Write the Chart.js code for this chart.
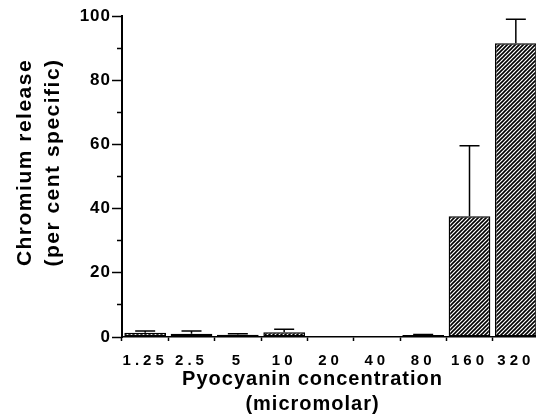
<!DOCTYPE html>
<html>
<head>
<meta charset="utf-8">
<script src="https://cdn.jsdelivr.net/npm/chart.js@4/dist/chart.umd.min.js"></script>
<style>
  html, body { margin: 0; padding: 0; background: #fff; overflow: hidden; width: 536px; height: 417px; }
  #wrap { width: 540px; height: 417px; }
</style>
</head>
<body>
<div id="wrap"><canvas id="c" width="540" height="417"></canvas></div>
<script>
// ---- data ----
const categories = ['1.25', '2.5', '5', '10', '20', '40', '80', '160', '320'];
const releaseValues = [1.3, 1.0, 0.7, 1.5, 0, 0, 0.6, 37.6, 91.5];
const releaseErrors = [0.6, 0.9, 0.3, 0.9, 0, 0, 0.2, 22.0, 7.5];
const yTickMin = 0;
const yTickMax = 100;
const yMajorStep = 20;
const yMinorStep = 10;
const xTitleLines = ['Pyocyanin concentration', '(micromolar)'];
const yTitleLines = ['Chromium release', '(per cent specific)'];

const FONT = '"Liberation Sans", Arial, Helvetica, sans-serif';

// hatch pattern
function makeHatch() {
  const t = document.createElement('canvas');
  t.width = 4; t.height = 4;
  const g = t.getContext('2d');
  g.fillStyle = '#fff';
  g.fillRect(0, 0, 4, 4);
  g.strokeStyle = '#000';
  g.lineWidth = 1.6;
  g.beginPath();
  g.moveTo(-1, 5); g.lineTo(5, -1);
  g.moveTo(-3, 3); g.lineTo(3, -3);
  g.moveTo(1, 7); g.lineTo(7, 1);
  g.stroke();
  return g.createPattern(t, 'repeat');
}
const hatch = makeHatch();

// error bar plugin (upper only)
const errorBars = {
  id: 'errorBars',
  afterDatasetsDraw(chart) {
    const ctx = chart.ctx;
    const meta = chart.getDatasetMeta(0);
    const ys = chart.scales.y;
    ctx.save();
    ctx.strokeStyle = '#000';
    ctx.lineWidth = 1.5;
    meta.data.forEach((bar, i) => {
      const e = releaseErrors[i];
      if (!e) return;
      const v = releaseValues[i];
      const yTop = ys.getPixelForValue(v + e);
      const yBase = ys.getPixelForValue(v);
      ctx.beginPath();
      ctx.moveTo(bar.x, yBase);
      ctx.lineTo(bar.x, yTop);
      ctx.moveTo(bar.x - 10, yTop);
      ctx.lineTo(bar.x + 10, yTop);
      ctx.stroke();
    });
    ctx.restore();
  }
};

// letter spacing / title placement plugin
function patchScale(scale, labelSp, titleSp, dx, dy) {
  if (!scale || scale._patched) return;
  scale._patched = true;
  const dl = scale.drawLabels;
  const dt = scale.drawTitle;
  scale.drawLabels = function (a) {
    const c = this.ctx; c.save(); c.letterSpacing = labelSp; dl.call(this, a); c.restore();
  };
  scale.drawTitle = function () {
    const c = this.ctx; c.save(); c.letterSpacing = titleSp; c.translate(dx, dy); dt.call(this); c.restore();
  };
}
const spacing = {
  id: 'spacing',
  beforeDraw(chart) {
    patchScale(chart.scales.x, '4px', '1px', -18, 0);
    patchScale(chart.scales.y, '1px', '1.5px', 0, -14);
  }
};

new Chart(document.getElementById('c'), {
  type: 'bar',
  data: {
    labels: categories,
    datasets: [{
      data: releaseValues,
      backgroundColor: hatch,
      borderColor: '#000',
      borderWidth: 1.5,
      borderSkipped: false,
      categoryPercentage: 1.0,
      barPercentage: 0.9
    }]
  },
  options: {
    responsive: false,
    animation: false,
    devicePixelRatio: 1,
    layout: { padding: { top: 16, right: 1, left: 0, bottom: 0 } },
    plugins: { legend: { display: false }, tooltip: { enabled: false } },
    scales: {
      x: {
        type: 'category',
        afterFit(s) { s.height = 80; },
        border: { display: true, color: '#000', width: 1.5 },
        grid: {
          display: true, drawOnChartArea: false, drawTicks: true,
          tickLength: 4, tickColor: '#000', tickWidth: 1.5, offset: true
        },
        ticks: {
          color: '#000', padding: 11,
          font: { family: FONT, size: 15, weight: 'bold' },
          maxRotation: 0, autoSkip: false
        },
        title: {
          display: true, text: xTitleLines, color: '#000',
          font: { family: FONT, size: 20, weight: 'bold', lineHeight: 1.25 },
          padding: { top: 0, bottom: 0 }
        }
      },
      y: {
        min: yTickMin, max: yTickMax,
        afterFit(s) { s.width = 122; },
        border: { display: true, color: '#000', width: 2 },
        grid: {
          display: true, drawOnChartArea: false, drawTicks: true,
          tickLength: 10, tickColor: '#000', tickWidth: 1.5,
          tickBorderDash: (ctx) => (ctx.tick && ctx.tick.value % yMajorStep !== 0) ? [0, 5, 20] : []
        },
        ticks: {
          stepSize: yMinorStep, color: '#000', padding: 1,
          font: { family: FONT, size: 17, weight: 'bold' },
          callback: (v) => (v % yMajorStep === 0 ? String(v) : '')
        },
        title: {
          display: true, text: yTitleLines, color: '#000',
          font: { family: FONT, size: 21, weight: 'bold', lineHeight: 1.3 },
          padding: { top: 12, bottom: 0 }
        }
      }
    }
  },
  plugins: [errorBars, spacing]
});
</script>
</body>
</html>
